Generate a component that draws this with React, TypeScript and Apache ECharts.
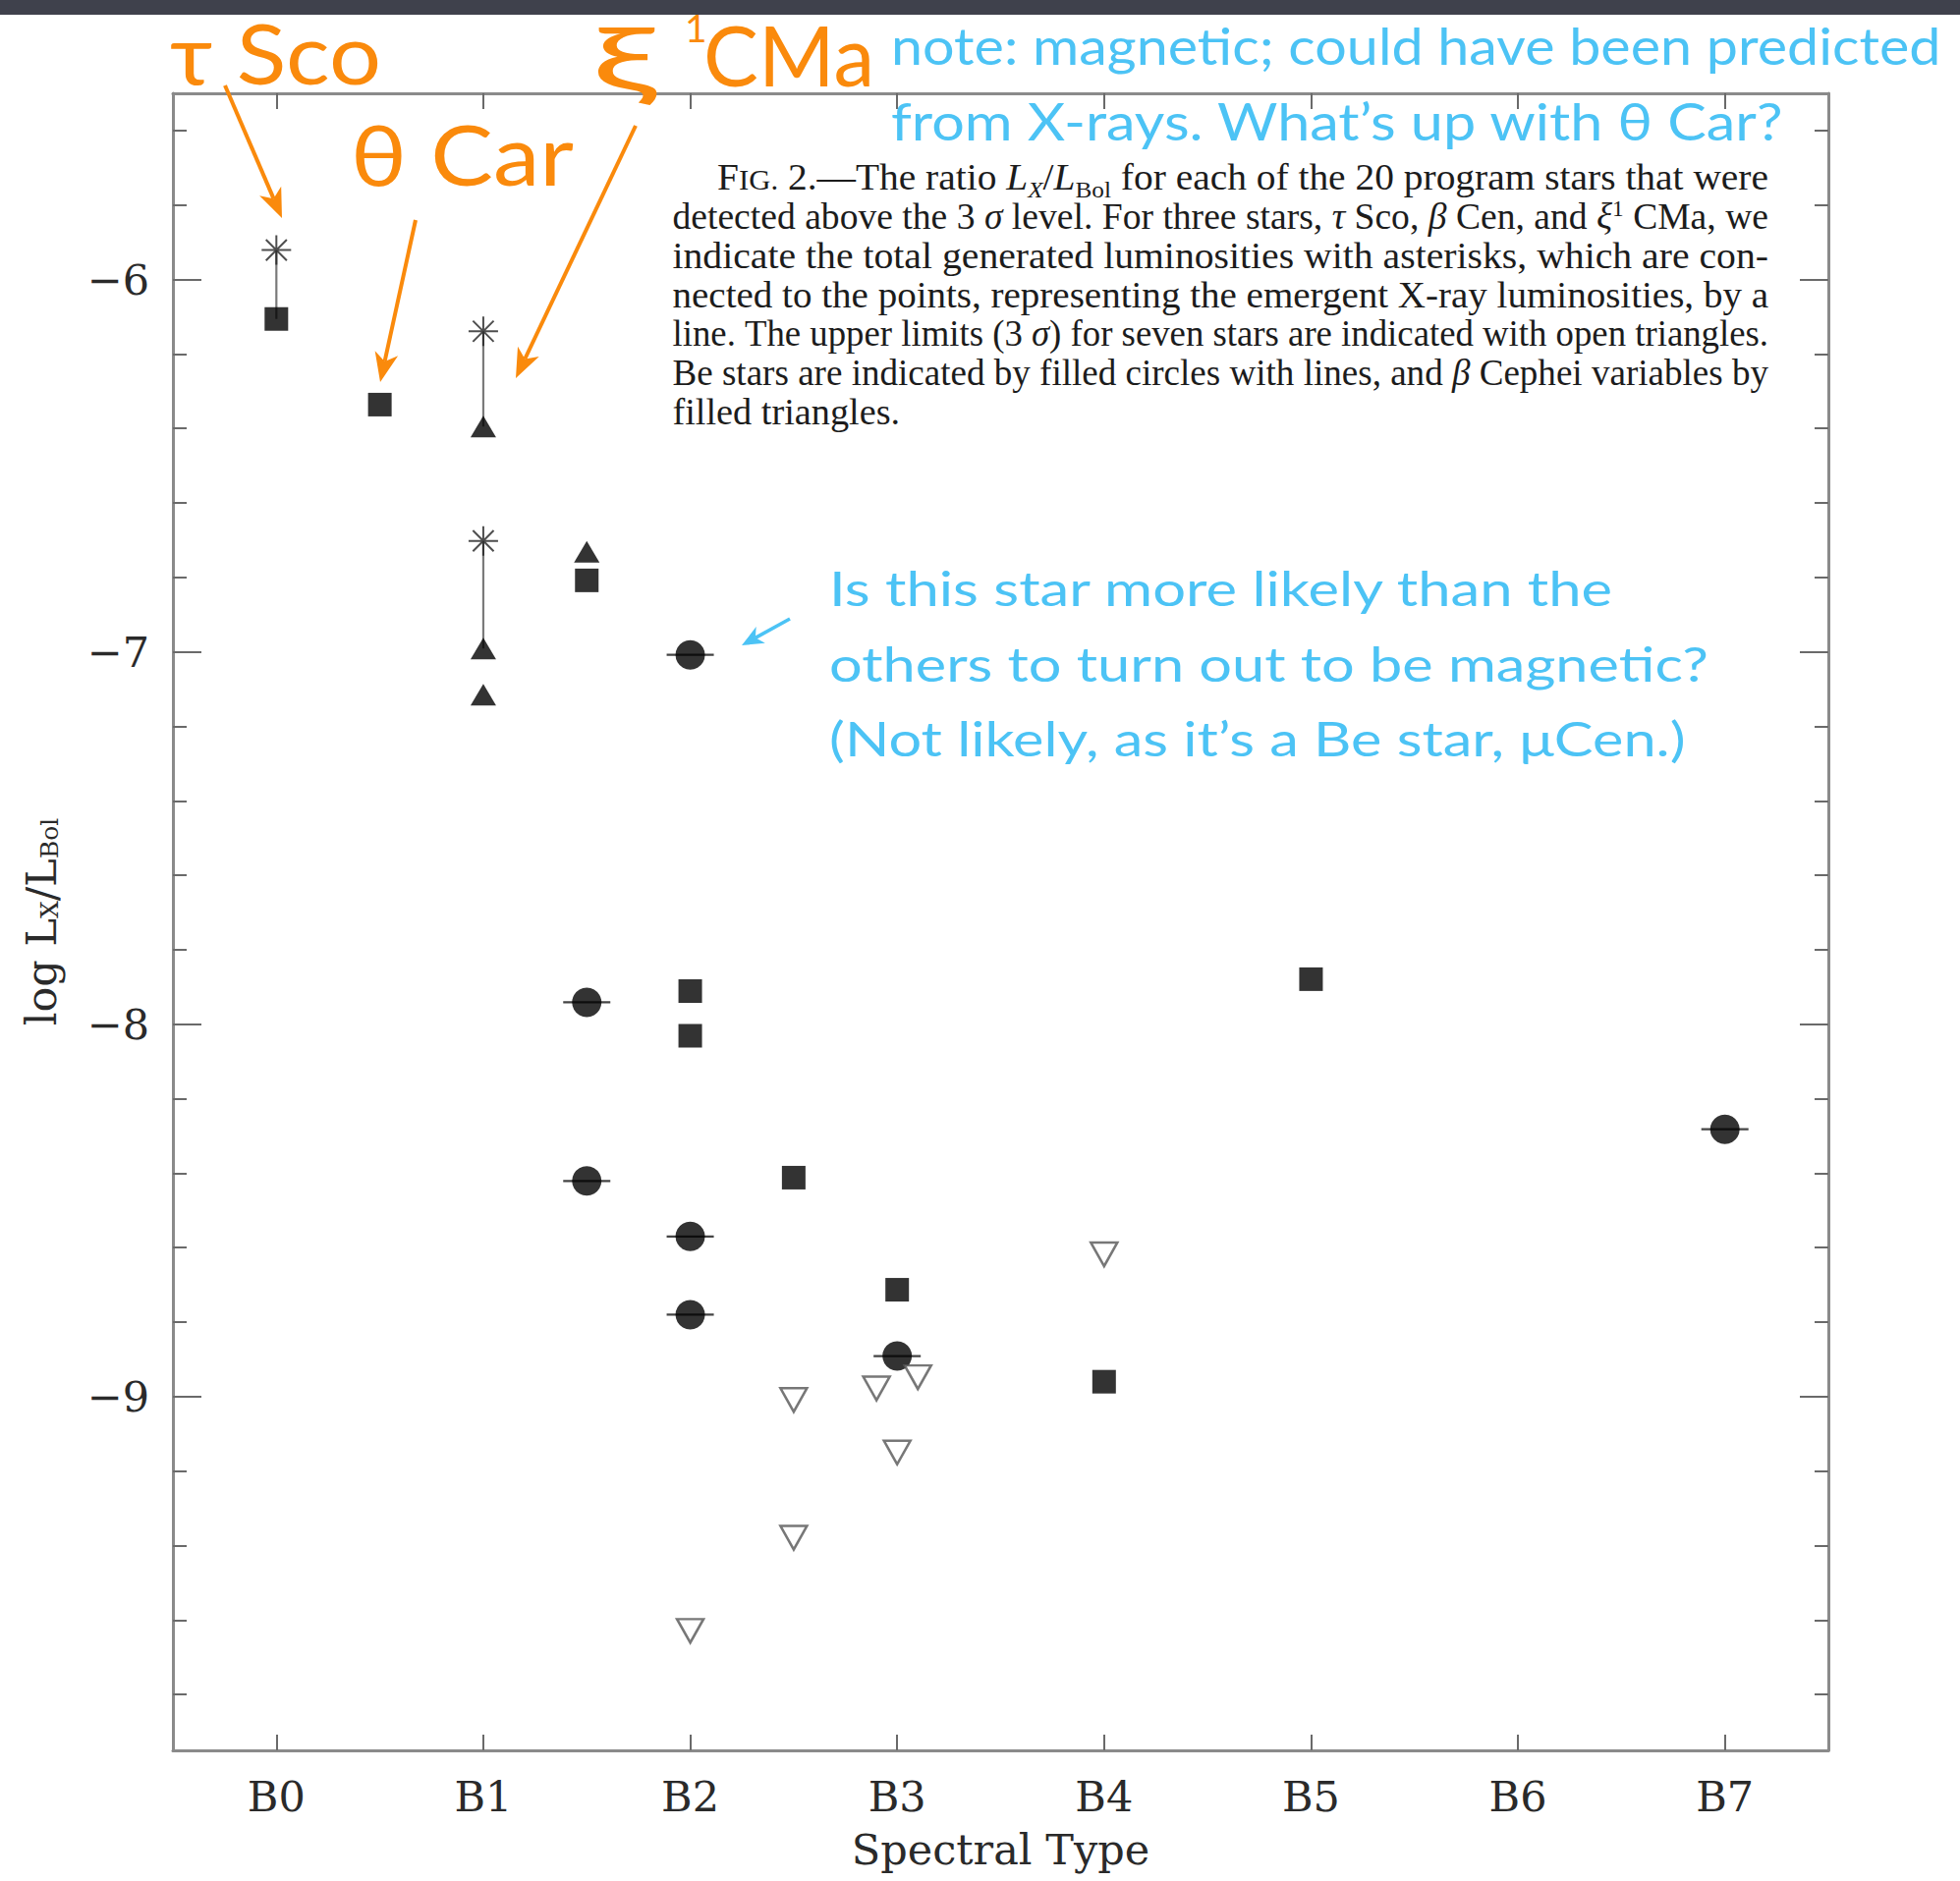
import React, { useEffect, useRef } from 'react';
import * as echarts from 'echarts';

// ---------- data ----------
const spectralTicks = [0, 1, 2, 3, 4, 5, 6, 7];
const spectralLabels = ['B0', 'B1', 'B2', 'B3', 'B4', 'B5', 'B6', 'B7'];
const majorYTicks = [-9, -8, -7, -6];
const minorYTicks = [-9.8, -9.6, -9.4, -9.2, -8.8, -8.6, -8.4, -8.2, -7.8, -7.6, -7.4, -7.2, -6.8, -6.6, -6.4, -6.2, -5.8, -5.6];

// emergent X-ray luminosities, filled squares
const squareX = [0, 0.5, 1.5, 2, 2, 2.5, 3, 4, 5];
const squareY = [-6.106, -6.336, -6.808, -7.911, -8.031, -8.412, -8.713, -8.96, -7.879];
// beta Cephei variables, filled triangles
const cepheiX = [1, 1, 1, 1.5];
const cepheiY = [-6.395, -6.991, -7.115, -6.731];
// Be stars, filled circles with lines
const beX = [2, 1.5, 1.5, 2, 2, 3, 7];
const beY = [-7.008, -7.941, -8.421, -8.57, -8.78, -8.891, -8.282];
// 3 sigma upper limits, open triangles
const limitX = [4, 3.1, 2.9, 2.5, 3, 2.5, 2];
const limitY = [-8.618, -8.948, -8.978, -9.009, -9.15, -9.379, -9.629];
// total generated luminosities (asterisks) and the emergent value they connect to
const starX = [0, 1, 1];
const starY = [-5.921, -6.139, -6.702];
const emergentY = [-6.106, -6.395, -6.991];

const captionLines = [
  'F{sc|IG.}  2.\u2014The ratio {i|L}{si|X}/{i|L}{sr|Bol} for each of the 20 program stars that were',
  'detected above the 3 {i|\u03c3} level. For three stars, {i|\u03c4} Sco, {i|\u03b2} Cen, and {i|\u03be}{sup|1} CMa, we',
  'indicate the total generated luminosities with asterisks, which are con-',
  'nected to the points, representing the emergent X-ray luminosities, by a',
  'line. The upper limits (3 {i|\u03c3}) for seven stars are indicated with open triangles.',
  'Be stars are indicated by filled circles with lines, and {i|\u03b2} Cephei variables by',
  'filled triangles.',
];

const noteLines = ['note: magnetic; could have been predicted', 'from X-rays. What\u2019s up with \u03b8 Car?'];
const questionLines = [
  'Is this star more likely than the',
  'others to turn out to be magnetic?',
  '(Not likely, as it\u2019s a Be star, \u03bcCen.)',
];

// ---------- styling ----------
const ORANGE = '#FA8A0C';
const BLUE = '#4CC3F5';
const SANS = 'Lato, "Open Sans", "DejaVu Sans", sans-serif';
const SERIF = '"Liberation Serif", "Times New Roman", serif';
const AXIS_FONT = '"DejaVu Serif", serif';
const FRAME = '#8a8a8a';
const TICK = '#6a6a6a';

const ctx = document.createElement('canvas').getContext('2d') as CanvasRenderingContext2D;
function measure(text: string, font: string) {
  ctx.font = font;
  return ctx.measureText(text).width;
}

function sansText(text: string, left: number, baseline: number, fs: number, color: string, right?: number) {
  const font = `${fs}px ${SANS}`;
  const w = measure(text, font);
  const sx = right ? (right - left) / w : 1;
  return {
    type: 'text',
    x: left,
    y: baseline - 0.387 * fs,
    scaleX: sx,
    z: 100,
    style: {
      text, font, fill: color,
      align: 'left', verticalAlign: 'middle', textAlign: 'left', textVerticalAlign: 'middle',
    },
  };
}

function arrow(x1: number, y1: number, x2: number, y2: number, color: string, lw: number, hl: number, hw: number) {
  const dx = x2 - x1, dy = y2 - y1;
  const L = Math.hypot(dx, dy);
  const ux = dx / L, uy = dy / L, px = -uy, py = ux;
  const bx = x2 - ux * hl, by = y2 - uy * hl;
  const nx = x2 - ux * hl * 0.72, ny = y2 - uy * hl * 0.72;
  return [
    { type: 'line', z: 100, shape: { x1, y1, x2: nx, y2: ny }, style: { stroke: color, lineWidth: lw } },
    {
      type: 'polygon', z: 100,
      shape: { points: [[x2, y2], [bx + (px * hw) / 2, by + (py * hw) / 2], [nx, ny], [bx - (px * hw) / 2, by - (py * hw) / 2]] },
      style: { fill: color },
    },
  ];
}

const CAP_FS = 37;
function kindInfo(kind: string) {
  switch (kind) {
    case 'i': return { size: CAP_FS, style: 'italic', dy: 0 };
    case 'sc': return { size: CAP_FS * 0.78, style: 'normal', dy: 0 };
    case 'si': return { size: CAP_FS * 0.64, style: 'italic', dy: CAP_FS * 0.2 };
    case 'sr': return { size: CAP_FS * 0.64, style: 'normal', dy: CAP_FS * 0.2 };
    case 'sup': return { size: CAP_FS * 0.62, style: 'normal', dy: -CAP_FS * 0.36 };
    default: return { size: CAP_FS, style: 'normal', dy: 0 };
  }
}
function parseWord(word: string) {
  const out: { t: string; k: string }[] = [];
  const re = /\{(\w+)\|([^}]*)\}|([^{]+)/g;
  let m: RegExpExecArray | null;
  while ((m = re.exec(word))) {
    if (m[1]) out.push({ t: m[2], k: m[1] });
    else out.push({ t: m[3], k: 'r' });
  }
  return out;
}
function buildCaption() {
  const els: any[] = [];
  const right = 1800;
  const spaceW = measure(' ', `${CAP_FS}px ${SERIF}`);
  const lines = captionLines.map((line) =>
    line.split(' ').filter(Boolean).map((w) =>
      parseWord(w).map((f) => {
        const info = kindInfo(f.k);
        const font = `${info.style} ${info.size}px ${SERIF}`;
        return { ...f, info, font, w: measure(f.t, font) };
      })
    )
  );
  const lefts = lines.map((_, i) => (i === 0 ? 730 : 684.5));
  const scales = lines.map((words, i) => {
    const sum = words.reduce((a, w) => a + w.reduce((b, f) => b + f.w, 0), 0);
    return (right - lefts[i]) / (sum + (words.length - 1) * spaceW);
  });
  const justified = scales.slice(0, scales.length - 1);
  const avgS = justified.reduce((a, b) => a + b, 0) / justified.length;
  lines.forEach((words, i) => {
    const last = i === lines.length - 1;
    const s = last ? avgS : scales[i];
    const baseline = 193 + i * 39.8;
    const gap = spaceW * s;
    let x = lefts[i];
    words.forEach((w) => {
      w.forEach((f) => {
        els.push({
          type: 'text', x, y: baseline + f.info.dy - 0.3375 * f.info.size, scaleX: s, z: 100,
          style: {
            text: f.t, font: f.font, fill: '#1c1c1c',
            align: 'left', verticalAlign: 'middle', textAlign: 'left', textVerticalAlign: 'middle',
          },
        });
        x += f.w * s;
      });
      x += gap;
    });
  });
  return els;
}

const asteriskPath = 'path://M0,15L30,15M15,0L15,30M4.4,4.4L25.6,25.6M25.6,4.4L4.4,25.6';

export default function App() {
  const ref = useRef<HTMLDivElement>(null);
  useEffect(() => {
    if (!ref.current) return;
    const chart = echarts.init(ref.current, null, { renderer: 'svg' });
    const yMin = -9.95, yMax = -5.5;
    const xMin = -0.5, xMax = 7.5;
    const baseY = {
      type: 'value', min: yMin, max: yMax, splitLine: { show: false },
      axisLine: { show: true, onZero: false, lineStyle: { color: FRAME, width: 3 } },
    };
    const baseX = {
      type: 'value', min: xMin, max: xMax, splitLine: { show: false },
      axisLine: { show: true, onZero: false, lineStyle: { color: FRAME, width: 3 } },
    };
    const hiddenLine = { show: false, onZero: false };

    const graphic: any[] = [
      { type: 'rect', z: 100, shape: { x: 0, y: 0, width: 1995, height: 15 }, style: { fill: '#3f414c' } },
      sansText('\u03c4 Sco', 173, 86, 85, ORANGE, 388),
      sansText('\u03b8 Car', 357, 189, 85, ORANGE, 584),
      sansText('\u03be', 602, 92, 90, ORANGE, 668),
      sansText('1', 697, 43, 39, ORANGE),
      sansText('CMa', 716, 88, 85, ORANGE, 890),
      ...arrow(229, 87, 287, 222, ORANGE, 4, 30, 24),
      ...arrow(423, 224, 387, 389, ORANGE, 4, 30, 24),
      ...arrow(647, 128, 525, 385, ORANGE, 4, 30, 24),
      sansText(noteLines[0], 907, 66, 53, BLUE, 1975),
      sansText(noteLines[1], 907, 143, 53, BLUE, 1817),
      sansText(questionLines[0], 844, 617, 48, BLUE, 1644),
      sansText(questionLines[1], 844, 694, 48, BLUE, 1739),
      sansText(questionLines[2], 844, 770, 48, BLUE, 1716),
      ...arrow(804, 630, 755, 657, BLUE, 3.5, 22, 19),
      ...buildCaption(),
    ];

    chart.setOption({
      animation: false,
      backgroundColor: '#ffffff',
      grid: { left: 176, right: 134, top: 95, bottom: 133, containLabel: false },
      xAxis: [
        {
          ...baseX, position: 'bottom',
          axisTick: { show: true, inside: true, length: 16, customValues: spectralTicks, lineStyle: { color: TICK, width: 2 } },
          axisLabel: {
            show: true, customValues: spectralTicks, margin: 25,
            formatter: (v: number) => spectralLabels[Math.round(v)],
            fontFamily: AXIS_FONT, fontSize: 43, color: '#2a2a2a',
          },
          name: 'Spectral Type', nameLocation: 'middle', nameGap: 79,
          nameTextStyle: { fontFamily: AXIS_FONT, fontSize: 43, color: '#2a2a2a' },
        },
        {
          ...baseX, position: 'top',
          axisTick: { show: true, inside: true, length: 16, customValues: spectralTicks, lineStyle: { color: TICK, width: 2 } },
          axisLabel: { show: false },
        },
      ],
      yAxis: [
        {
          ...baseY, position: 'left',
          axisTick: { show: true, inside: true, length: 29, customValues: majorYTicks, lineStyle: { color: TICK, width: 2 } },
          axisLabel: {
            show: true, customValues: majorYTicks, margin: 24,
            formatter: (v: number) => '\u2212' + Math.abs(v),
            fontFamily: AXIS_FONT, fontSize: 43, color: '#2a2a2a',
          },
          name: 'log L{s|X}/L{s|Bol}', nameLocation: 'middle', nameRotate: 90, nameGap: 113,
          nameTextStyle: {
            fontFamily: AXIS_FONT, fontSize: 43, color: '#2a2a2a',
            rich: { s: { fontFamily: AXIS_FONT, fontSize: 25, color: '#2a2a2a', lineHeight: 12, verticalAlign: 'bottom' } },
          },
        },
        {
          ...baseY, position: 'left', axisLine: hiddenLine,
          axisTick: { show: true, inside: true, length: 14, customValues: minorYTicks, lineStyle: { color: TICK, width: 2 } },
          axisLabel: { show: false },
        },
        {
          ...baseY, position: 'right',
          axisTick: { show: true, inside: true, length: 29, customValues: majorYTicks, lineStyle: { color: TICK, width: 2 } },
          axisLabel: { show: false },
        },
        {
          ...baseY, position: 'right', axisLine: hiddenLine,
          axisTick: { show: true, inside: true, length: 14, customValues: minorYTicks, lineStyle: { color: TICK, width: 2 } },
          axisLabel: { show: false },
        },
      ],
      series: [
        {
          type: 'custom', name: 'connector', z: 1, silent: true,
          data: starX.map((x, i) => [x, starY[i], emergentY[i]]),
          encode: { x: 0, y: [1, 2] },
          renderItem: (_p: any, api: any) => {
            const a = api.coord([api.value(0), api.value(1)]);
            const b = api.coord([api.value(0), api.value(2)]);
            return { type: 'line', shape: { x1: a[0], y1: a[1], x2: b[0], y2: b[1] }, style: { stroke: '#7a7a7a', lineWidth: 2.2 } };
          },
        },
        {
          type: 'custom', name: 'Be bars', z: 1, silent: true,
          data: beX.map((x, i) => [x, beY[i]]),
          encode: { x: 0, y: 1 },
          renderItem: (_p: any, api: any) => {
            const c = api.coord([api.value(0), api.value(1)]);
            return { type: 'line', shape: { x1: c[0] - 24, y1: c[1], x2: c[0] + 24, y2: c[1] }, style: { stroke: '#444', lineWidth: 2.2 } };
          },
        },
        {
          type: 'scatter', name: 'emergent', z: 3, symbol: 'rect', symbolSize: 24,
          itemStyle: { color: '#000' },
          data: squareX.map((x, i) => [x, squareY[i]]),
        },
        {
          type: 'scatter', name: 'beta Cephei', z: 3, symbol: 'triangle', symbolSize: [26, 22],
          itemStyle: { color: '#000' },
          data: cepheiX.map((x, i) => [x, cepheiY[i]]),
        },
        {
          type: 'scatter', name: 'Be', z: 3, symbol: 'circle', symbolSize: 30,
          itemStyle: { color: '#000' },
          data: beX.map((x, i) => [x, beY[i]]),
        },
        {
          type: 'scatter', name: 'upper limit', z: 3, symbol: 'triangle', symbolRotate: 180, symbolSize: [27, 24],
          itemStyle: { color: '#ffffff', borderColor: '#555', borderWidth: 2.5 },
          data: limitX.map((x, i) => [x, limitY[i]]),
        },
        {
          type: 'scatter', name: 'total', z: 3, symbol: asteriskPath, symbolSize: 30,
          itemStyle: { color: 'none', borderColor: '#222', borderWidth: 2 },
          data: starX.map((x, i) => [x, starY[i]]),
        },
      ],
      graphic,
    } as any);
    return () => chart.dispose();
  }, []);
  return <div ref={ref} style={{ position: 'absolute', left: 0, top: 0, width: 1995, height: 1915, background: '#fff' }} />;
}
